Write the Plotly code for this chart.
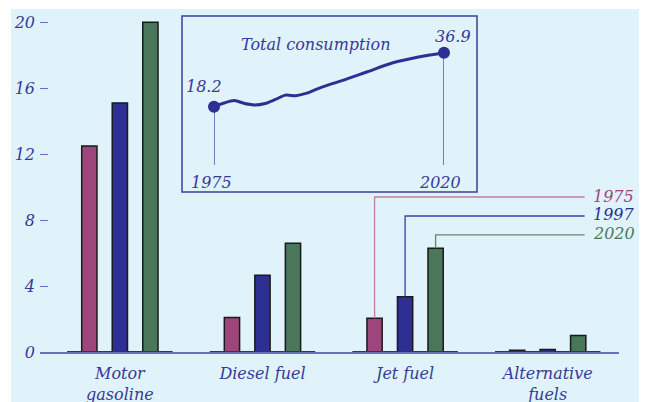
import plotly.graph_objects as go

# ---------------- data ----------------
categories = ["Motor<br>gasoline", "Diesel fuel", "Jet fuel", "Alternative<br>fuels"]
series_names = ["1975", "1997", "2020"]
values_1975 = [12.5, 2.1, 2.05, 0.1]
values_1997 = [15.1, 4.65, 3.35, 0.15]
values_2020 = [20.0, 6.6, 6.3, 1.0]
y_ticks = [0, 4, 8, 12, 16, 20]

total_years = [1975, 1977, 1979, 1981, 1983, 1985, 1987, 1989, 1991, 1993,
               1995, 1997, 2000, 2005, 2010, 2015, 2020]
total_values = [18.2, 19.5, 20.3, 19.3, 18.8, 19.3, 20.7, 22.2, 22.0, 22.8,
                24.2, 25.5, 27.2, 30.3, 33.4, 35.4, 36.9]

# ---------------- style ----------------
W, H = 647, 402
OFF = 8  # page body margin
ML, MR, MT, MB = 32, 36, 6, 58
PW, PH = W - ML - MR, H - MT - MB
FONT = "DejaVu Serif"
TXT = "#363a98"
BG = "#e0f2fa"
colors = ["#9e467c", "#2d3092", "#4a7759"]
legend_line_colors = ["#c27ca4", "#3a3fa8", "#5e8a6c"]


def fx(px):
    return (px - OFF - ML) / PW


def fy(py):
    return (H - MB - (py - OFF)) / PH


x_pos = list(range(len(categories)))
series_values = [values_1975, values_1997, values_2020]

fig = go.Figure()

for name, vals, col in zip(series_names, series_values, colors):
    fig.add_trace(go.Bar(
        x=x_pos, y=vals, name=name,
        marker=dict(color=col, line=dict(color="#1a1a1a", width=1.5)),
        showlegend=False, hoverinfo="skip",
    ))

# darker baseline segments under each group
bx, by = [], []
for c in x_pos:
    bx += [c - 0.37, c + 0.37, None]
    by += [0, 0, None]
fig.add_trace(go.Scatter(x=bx, y=by, mode="lines",
                         line=dict(color="#2a2f8f", width=2),
                         showlegend=False, hoverinfo="skip", cliponaxis=False))

# legend leader lines from the jet fuel bars
jet = categories.index("Jet fuel")
slot = 0.214
levels = [9.40, 8.25, 7.10]
x_end = 3.259
for i, (name, vals, lc, tc) in enumerate(zip(series_names, series_values,
                                             legend_line_colors, colors)):
    bxp = jet + (i - 1) * slot
    fig.add_trace(go.Scatter(
        x=[bxp, bxp, x_end], y=[vals[jet], levels[i], levels[i]],
        mode="lines", line=dict(color=lc, width=1.3),
        showlegend=False, hoverinfo="skip"))
    fig.add_annotation(x=x_end, y=levels[i], xref="x", yref="y",
                       text=f"<i>{name}</i>", showarrow=False,
                       xanchor="left", yanchor="middle", xshift=6, yshift=1,
                       font=dict(family=FONT, size=16, color=tc))

# ---------------- inset ----------------
y2_min, y2_max = -1.99, 39.56
fig.add_trace(go.Scatter(
    x=total_years, y=total_values, mode="lines",
    line=dict(color="#2d3092", width=3, shape="spline", smoothing=0.8),
    xaxis="x2", yaxis="y2", showlegend=False, hoverinfo="skip",
    cliponaxis=False))
ends_x = [total_years[0], total_years[-1]]
ends_y = [total_values[0], total_values[-1]]
for xe, ye in zip(ends_x, ends_y):
    fig.add_trace(go.Scatter(
        x=[xe, xe], y=[y2_min, ye], mode="lines",
        line=dict(color="#3a3f9a", width=1.3),
        xaxis="x2", yaxis="y2", showlegend=False, hoverinfo="skip",
        cliponaxis=False))
fig.add_trace(go.Scatter(
    x=ends_x, y=ends_y, mode="markers",
    marker=dict(color="#2d3092", size=12),
    xaxis="x2", yaxis="y2", showlegend=False, hoverinfo="skip",
    cliponaxis=False))

fig.add_annotation(x=ends_x[0], y=ends_y[0], xref="x2", yref="y2",
                   text=f"<i>{ends_y[0]}</i>", showarrow=False,
                   xshift=-10, yshift=20,
                   font=dict(family=FONT, size=16, color=TXT))
fig.add_annotation(x=ends_x[1], y=ends_y[1], xref="x2", yref="y2",
                   text=f"<i>{ends_y[1]}</i>", showarrow=False,
                   xshift=9, yshift=16,
                   font=dict(family=FONT, size=16, color=TXT))
fig.add_annotation(x=ends_x[0], y=y2_min, xref="x2", yref="y2",
                   text=f"<i>{ends_x[0]}</i>", showarrow=False,
                   xshift=-3, yshift=-17,
                   font=dict(family=FONT, size=16, color=TXT))
fig.add_annotation(x=ends_x[1], y=y2_min, xref="x2", yref="y2",
                   text=f"<i>{ends_x[1]}</i>", showarrow=False,
                   xshift=-4, yshift=-17,
                   font=dict(family=FONT, size=16, color=TXT))
fig.add_annotation(x=fx(316), y=fy(33), xref="paper", yref="paper",
                   text="<i>Total consumption</i>", showarrow=False,
                   font=dict(family=FONT, size=16, color=TXT))

# background + inset box
fig.add_shape(type="rect", xref="paper", yref="paper",
              x0=fx(11), x1=fx(W + 20), y0=fy(H + 20), y1=fy(9),
              fillcolor=BG, line=dict(width=0), layer="below")
fig.add_shape(type="rect", xref="paper", yref="paper",
              x0=fx(182), x1=fx(477), y0=fy(192), y1=fy(16),
              fillcolor="rgba(0,0,0,0)", line=dict(color="#3a3f9a", width=1.5),
              layer="below")

fig.update_layout(
    width=W, height=H,
    margin=dict(l=ML, r=MR, t=MT, b=MB, autoexpand=False),
    paper_bgcolor="white", plot_bgcolor="rgba(0,0,0,0)",
    barmode="group", bargap=0.358, bargroupgap=0.5,
    font=dict(family=FONT, size=16, color=TXT),
    xaxis=dict(
        range=[-0.56, 3.5], tickmode="array", tickvals=x_pos,
        ticktext=[f"<i>{c}</i>" for c in categories],
        showgrid=False, zeroline=False, showline=True,
        linecolor="#6670c0", linewidth=2, automargin=False,
        ticks="outside", ticklen=6, tickcolor="rgba(0,0,0,0)",
        tickfont=dict(family=FONT, size=16, color=TXT),
    ),
    yaxis=dict(
        range=[0, 20.5], tickmode="array", tickvals=y_ticks,
        ticktext=[f"<i>{t}</i>" for t in y_ticks],
        showgrid=False, zeroline=False, showline=False, automargin=False,
        ticks="inside", ticklen=8, tickwidth=1.3, tickcolor="#6670c0",
        ticklabelstandoff=4,
        tickfont=dict(family=FONT, size=16, color=TXT),
    ),
    xaxis2=dict(domain=[fx(214), fx(444)], range=[1975, 2020],
                anchor="y2", visible=False),
    yaxis2=dict(domain=[fy(165), fy(45)], range=[y2_min, y2_max],
                anchor="x2", visible=False),
)

fig.write_html("out.html")
